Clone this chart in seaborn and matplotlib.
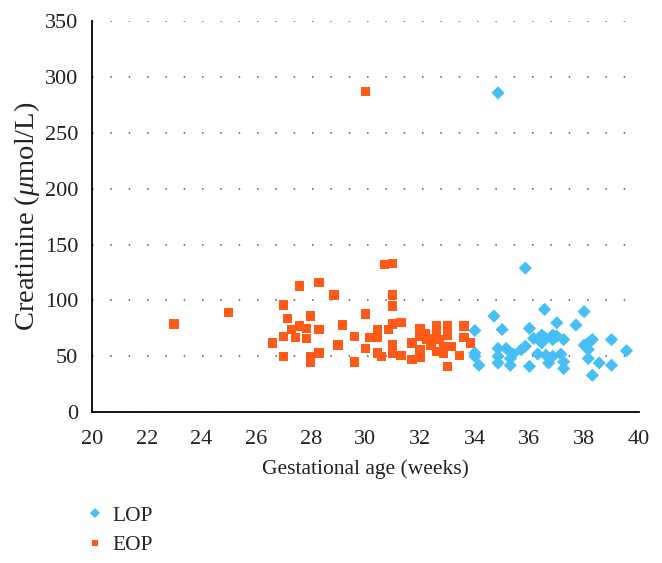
import numpy as np
import pandas as pd
import matplotlib
matplotlib.use("Agg")
import matplotlib.pyplot as plt
import seaborn as sns

# early-onset (EOP) points
eop_weeks = [23.0, 25.0, 30.0,
             26.6, 27.0, 27.0, 27.15, 27.0, 27.3, 27.45, 27.6, 27.6, 27.85, 27.85,
             28.0, 28.0, 28.0, 28.3, 28.3, 28.3, 28.85, 29.0, 29.15, 29.6, 29.6,
             30.0, 30.0, 30.15, 30.45, 30.45, 30.45, 30.6, 30.7, 31.0, 31.0, 31.0,
             30.85, 31.0, 31.3, 31.0, 31.0, 31.3, 31.7, 31.7, 32.0, 32.0, 32.0,
             32.0, 32.25, 32.6, 32.6, 32.6, 32.7, 32.85, 32.85, 33.0, 33.0, 33.0,
             33.15, 33.45, 33.6, 33.6, 33.85, 32.4, 32.5, 32.2]
eop_creat = [79, 89, 287,
             62, 96, 50, 84, 68, 74, 67, 113, 77, 75, 66,
             86, 50, 45, 116, 74, 53, 105, 60, 78, 45, 68,
             88, 57, 67, 74, 67, 53, 50, 132, 133, 105, 95,
             74, 79, 80, 60, 53, 51, 62, 47, 75, 68, 56,
             49, 65, 77, 70, 54, 65, 59, 53, 77, 69, 41,
             59, 51, 77, 67, 62, 60, 66, 70]

# late-onset (LOP) points
lop_weeks = [34.85, 34.0, 34.0, 34.15, 34.0, 34.7, 35.0, 34.85, 34.85, 34.85,
             35.15, 35.3, 35.3, 35.4, 35.7, 35.85, 35.85, 36.0, 36.0, 36.15,
             36.3, 36.55, 36.45, 36.6, 36.45, 36.6, 36.7, 36.85, 36.85, 37.0,
             37.0, 36.85, 37.15, 37.25, 37.25, 37.25, 37.7, 38.0, 38.0, 38.15,
             38.15, 38.3, 38.15, 38.3, 38.55, 39.0, 39.0, 39.55]
lop_creat = [286, 73, 50, 42, 53, 86, 74, 57, 50, 44,
             57, 48, 42, 52, 56, 59, 129, 75, 41, 66,
             52, 92, 69, 66, 62, 51, 44, 69, 65, 80,
             68, 50, 52, 65, 45, 39, 78, 90, 60, 56,
             48, 65, 62, 33, 44, 65, 42, 55]

groups = ["LOP"] * len(lop_weeks) + ["EOP"] * len(eop_weeks)
df = pd.DataFrame({
    "weeks": lop_weeks + eop_weeks,
    "creatinine": lop_creat + eop_creat,
    "group": groups,
})

sns.set_style("white")
plt.rcParams["font.family"] = ["Liberation Serif", "DejaVu Serif"]
plt.rcParams["mathtext.fontset"] = "custom"
plt.rcParams["mathtext.it"] = "Liberation Serif:italic"

fig = plt.figure(figsize=(6.62, 5.63), dpi=100)
ax = fig.add_axes([0.139, 0.268, 0.826, 0.694])

sns.scatterplot(data=df, x="weeks", y="creatinine", hue="group", style="group",
                hue_order=["LOP", "EOP"], style_order=["LOP", "EOP"],
                palette={"LOP": "#45BFF5", "EOP": "#FF5A17"},
                markers={"LOP": "D", "EOP": "s"},
                s=45, linewidth=0, ax=ax)

ax.set_xlim(20, 40)
ax.set_ylim(0, 350)
ax.set_xticks(np.arange(20, 41, 2))
ax.set_yticks(np.arange(0, 351, 50))
ax.yaxis.grid(True, color="#555555", linestyle=(0, (1, 11)), linewidth=1.1)
ax.xaxis.grid(False)
ax.set_axisbelow(True)

for side in ["top", "right"]:
    ax.spines[side].set_visible(False)
for side in ["left", "bottom"]:
    ax.spines[side].set_color("black")
    ax.spines[side].set_linewidth(1.3)
ax.tick_params(axis="both", direction="out", length=6, width=1.2, color="black",
               labelsize=16, labelcolor="#222222")
ax.tick_params(axis="x", length=7, pad=6)
ax.tick_params(axis="y", length=5, pad=5)

ax.set_xlabel("Gestational age (weeks)", fontsize=15.5, color="#222222", labelpad=7)
ax.set_ylabel("Creatinine ($\\mu$mol/L)", fontsize=20.5, color="#222222", labelpad=2)

sns.move_legend(ax, "upper left", bbox_to_anchor=(0.121, 0.102),
                bbox_transform=fig.transFigure, frameon=False, title=None,
                fontsize=15.5, handlelength=1.4, handletextpad=0.1,
                labelspacing=0.45, markerscale=0.75, borderaxespad=0,
                borderpad=0)

fig.savefig("out.png", dpi=100)
